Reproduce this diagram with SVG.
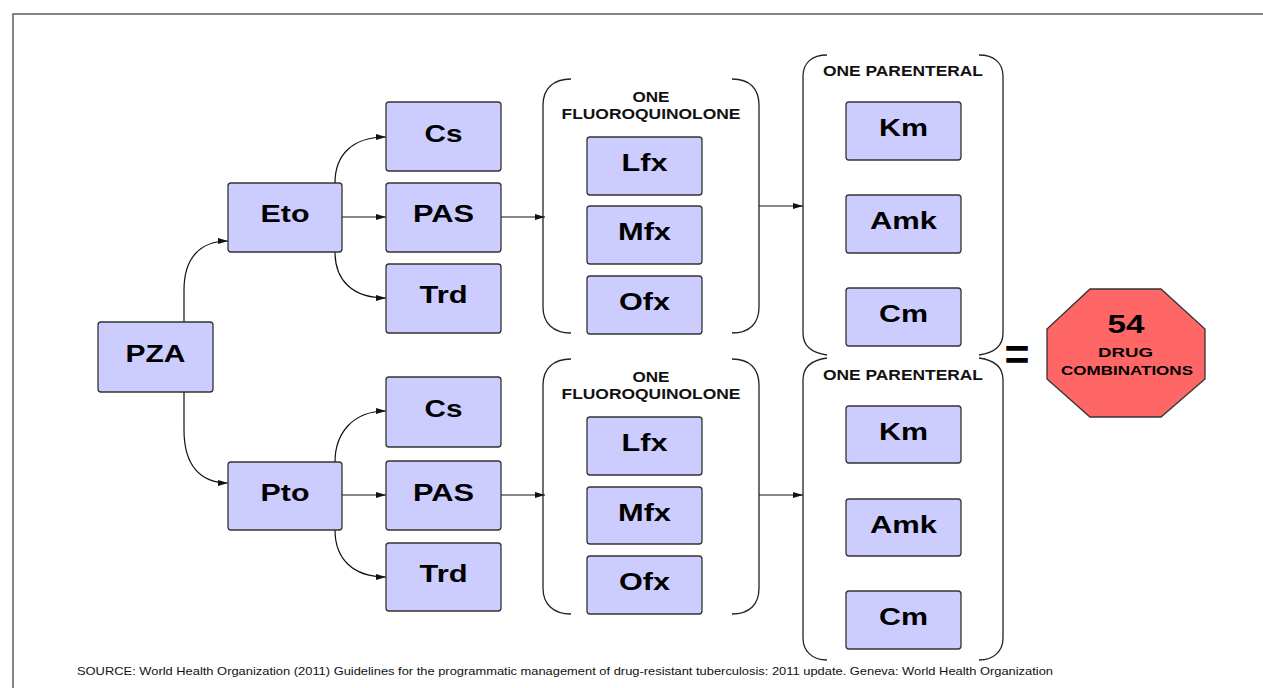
<svg xmlns="http://www.w3.org/2000/svg" width="1263" height="688" viewBox="0 0 1263 688">
<style>
.box{fill:#ccccff;stroke:#333;stroke-width:1.3}
.lbl{font-family:"Liberation Sans",Arial,sans-serif;font-weight:bold;font-size:24px;fill:#000;text-anchor:middle}
.hdr{font-family:"Liberation Sans",Arial,sans-serif;font-weight:bold;font-size:14.5px;fill:#111;text-anchor:middle}
.br{fill:none;stroke:#222;stroke-width:1.3}
.con{fill:none;stroke:#111;stroke-width:1.2}
</style>
<defs>
<marker id="ah" viewBox="0 0 10 6" refX="10" refY="3" markerWidth="10" markerHeight="6" markerUnits="userSpaceOnUse" orient="auto">
<path d="M0,0 L10,3 L0,6 Z" fill="#111"/>
</marker>
</defs>
<rect x="0" y="0" width="1263" height="688" fill="#fff"/>
<rect x="13" y="14" width="1300" height="720" fill="none" stroke="#444" stroke-width="1.3"/>

<g id="connectors">
<path class="con" d="M184,322 L184,290 C184,258 200,241 228,241" marker-end="url(#ah)"/>
<path class="con" d="M184,392 L184,430 C184,465 200,483 228,483" marker-end="url(#ah)"/>
<path class="con" d="M335,183 C335,155 352,137 386,137" marker-end="url(#ah)"/>
<path class="con" d="M342,217 L386,217" marker-end="url(#ah)"/>
<path class="con" d="M335,252 C335,280 352,298 386,298" marker-end="url(#ah)"/>
<path class="con" d="M335,462 C335,434 352,411 386,411" marker-end="url(#ah)"/>
<path class="con" d="M342,495 L386,495" marker-end="url(#ah)"/>
<path class="con" d="M335,530 C335,558 352,577 386,577" marker-end="url(#ah)"/>
<path class="con" d="M501,217 L545,217" marker-end="url(#ah)"/>
<path class="con" d="M501,495 L545,495" marker-end="url(#ah)"/>
<path class="con" d="M759,206 L803,206" marker-end="url(#ah)"/>
<path class="con" d="M759,495 L803,495" marker-end="url(#ah)"/>
</g>

<g id="pza"><rect class="box" x="98" y="322" width="115" height="70" rx="3"/><text class="lbl" x="155.5" y="362" textLength="60" lengthAdjust="spacingAndGlyphs">PZA</text></g>
<g id="eto"><rect class="box" x="228" y="183" width="114" height="69" rx="3"/><text class="lbl" x="285" y="222" textLength="49" lengthAdjust="spacingAndGlyphs">Eto</text></g>
<g id="pto"><rect class="box" x="228" y="462" width="114" height="68" rx="3"/><text class="lbl" x="285" y="501" textLength="49" lengthAdjust="spacingAndGlyphs">Pto</text></g>

<g id="cs1"><rect class="box" x="386" y="102" width="115" height="69" rx="3"/><text class="lbl" x="443.5" y="142" textLength="38" lengthAdjust="spacingAndGlyphs">Cs</text></g>
<g id="pas1"><rect class="box" x="386" y="183" width="115" height="69" rx="3"/><text class="lbl" x="443.5" y="222" textLength="61" lengthAdjust="spacingAndGlyphs">PAS</text></g>
<g id="trd1"><rect class="box" x="386" y="264" width="115" height="69" rx="3"/><text class="lbl" x="443.5" y="303" textLength="48" lengthAdjust="spacingAndGlyphs">Trd</text></g>

<g id="cs2"><rect class="box" x="386" y="377" width="115" height="70" rx="3"/><text class="lbl" x="443.5" y="417" textLength="38" lengthAdjust="spacingAndGlyphs">Cs</text></g>
<g id="pas2"><rect class="box" x="386" y="461" width="115" height="69" rx="3"/><text class="lbl" x="443.5" y="501" textLength="61" lengthAdjust="spacingAndGlyphs">PAS</text></g>
<g id="trd2"><rect class="box" x="386" y="543" width="115" height="68" rx="3"/><text class="lbl" x="443.5" y="582" textLength="48" lengthAdjust="spacingAndGlyphs">Trd</text></g>

<g id="fq1">
<path class="br" d="M571,79 C553,79 543,89 543,105 L543,307 C543,323 553,333 571,333"/>
<path class="br" d="M732,79 C750,79 759,89 759,105 L759,307 C759,323 750,333 732,333"/>
<text class="hdr" x="651" y="102" textLength="37" lengthAdjust="spacingAndGlyphs">ONE</text>
<text class="hdr" x="651" y="119" textLength="179" lengthAdjust="spacingAndGlyphs">FLUOROQUINOLONE</text>
</g>
<g id="lfx1"><rect class="box" x="587" y="137" width="115" height="58" rx="3"/><text class="lbl" x="644.5" y="171" textLength="46" lengthAdjust="spacingAndGlyphs">Lfx</text></g>
<g id="mfx1"><rect class="box" x="587" y="206" width="115" height="58" rx="3"/><text class="lbl" x="644.5" y="240" textLength="53" lengthAdjust="spacingAndGlyphs">Mfx</text></g>
<g id="ofx1"><rect class="box" x="587" y="276" width="115" height="58" rx="3"/><text class="lbl" x="644.5" y="310" textLength="51" lengthAdjust="spacingAndGlyphs">Ofx</text></g>

<g id="fq2">
<path class="br" d="M571,359 C553,359 543,369 543,385 L543,588 C543,604 553,614 571,614"/>
<path class="br" d="M732,359 C750,359 759,369 759,385 L759,588 C759,604 750,614 732,614"/>
<text class="hdr" x="651" y="382" textLength="37" lengthAdjust="spacingAndGlyphs">ONE</text>
<text class="hdr" x="651" y="399" textLength="179" lengthAdjust="spacingAndGlyphs">FLUOROQUINOLONE</text>
</g>
<g id="lfx2"><rect class="box" x="587" y="417" width="115" height="58" rx="3"/><text class="lbl" x="644.5" y="451" textLength="46" lengthAdjust="spacingAndGlyphs">Lfx</text></g>
<g id="mfx2"><rect class="box" x="587" y="487" width="115" height="57" rx="3"/><text class="lbl" x="644.5" y="521" textLength="53" lengthAdjust="spacingAndGlyphs">Mfx</text></g>
<g id="ofx2"><rect class="box" x="587" y="556" width="115" height="58" rx="3"/><text class="lbl" x="644.5" y="590" textLength="51" lengthAdjust="spacingAndGlyphs">Ofx</text></g>

<g id="par1">
<path class="br" d="M827,55 C812,55 803,63 803,76 L803,333 C803,346 812,353 827,355"/>
<path class="br" d="M979,55 C994,55 1003,63 1003,76 L1003,333 C1003,346 994,353 979,355"/>
<text class="hdr" x="903" y="76" textLength="160" lengthAdjust="spacingAndGlyphs">ONE PARENTERAL</text>
</g>
<g id="km1"><rect class="box" x="846" y="102" width="115" height="58" rx="3"/><text class="lbl" x="903.5" y="136" textLength="49" lengthAdjust="spacingAndGlyphs">Km</text></g>
<g id="amk1"><rect class="box" x="846" y="195" width="115" height="58" rx="3"/><text class="lbl" x="903.5" y="229" textLength="67" lengthAdjust="spacingAndGlyphs">Amk</text></g>
<g id="cm1"><rect class="box" x="846" y="288" width="115" height="58" rx="3"/><text class="lbl" x="903.5" y="322" textLength="49" lengthAdjust="spacingAndGlyphs">Cm</text></g>

<g id="par2">
<path class="br" d="M827,358 C812,360 803,367 803,380 L803,638 C803,651 812,660 827,660"/>
<path class="br" d="M979,358 C994,360 1003,367 1003,380 L1003,638 C1003,651 994,660 979,660"/>
<text class="hdr" x="903" y="380" textLength="160" lengthAdjust="spacingAndGlyphs">ONE PARENTERAL</text>
</g>
<g id="km2"><rect class="box" x="846" y="406" width="115" height="57" rx="3"/><text class="lbl" x="903.5" y="440" textLength="49" lengthAdjust="spacingAndGlyphs">Km</text></g>
<g id="amk2"><rect class="box" x="846" y="499" width="115" height="57" rx="3"/><text class="lbl" x="903.5" y="533" textLength="67" lengthAdjust="spacingAndGlyphs">Amk</text></g>
<g id="cm2"><rect class="box" x="846" y="591" width="115" height="58" rx="3"/><text class="lbl" x="903.5" y="625" textLength="49" lengthAdjust="spacingAndGlyphs">Cm</text></g>

<g id="equals"><text x="1017" y="370" font-family="Liberation Sans, Arial, sans-serif" font-weight="bold" font-size="44" text-anchor="middle" textLength="25" lengthAdjust="spacingAndGlyphs">=</text></g>

<g id="result">
<polygon points="1090,289 1161,289 1205,329 1205,379 1161,417 1090,417 1047,379 1047,329" fill="#ff6666" stroke="#333" stroke-width="1.3"/>
<text x="1126" y="333" font-family="Liberation Sans, Arial, sans-serif" font-weight="bold" font-size="25" text-anchor="middle" textLength="37" lengthAdjust="spacingAndGlyphs">54</text>
<text x="1125.5" y="357" font-family="Liberation Sans, Arial, sans-serif" font-weight="bold" font-size="13" text-anchor="middle" textLength="55" lengthAdjust="spacingAndGlyphs">DRUG</text>
<text x="1127" y="375" font-family="Liberation Sans, Arial, sans-serif" font-weight="bold" font-size="13" text-anchor="middle" textLength="132" lengthAdjust="spacingAndGlyphs">COMBINATIONS</text>
</g>

<text x="77" y="675" font-family="Liberation Sans, Arial, sans-serif" font-size="11" fill="#111" textLength="976" lengthAdjust="spacingAndGlyphs">SOURCE: World Health Organization (2011) Guidelines for the programmatic management of drug-resistant tuberculosis: 2011 update. Geneva: World Health Organization</text>
</svg>
